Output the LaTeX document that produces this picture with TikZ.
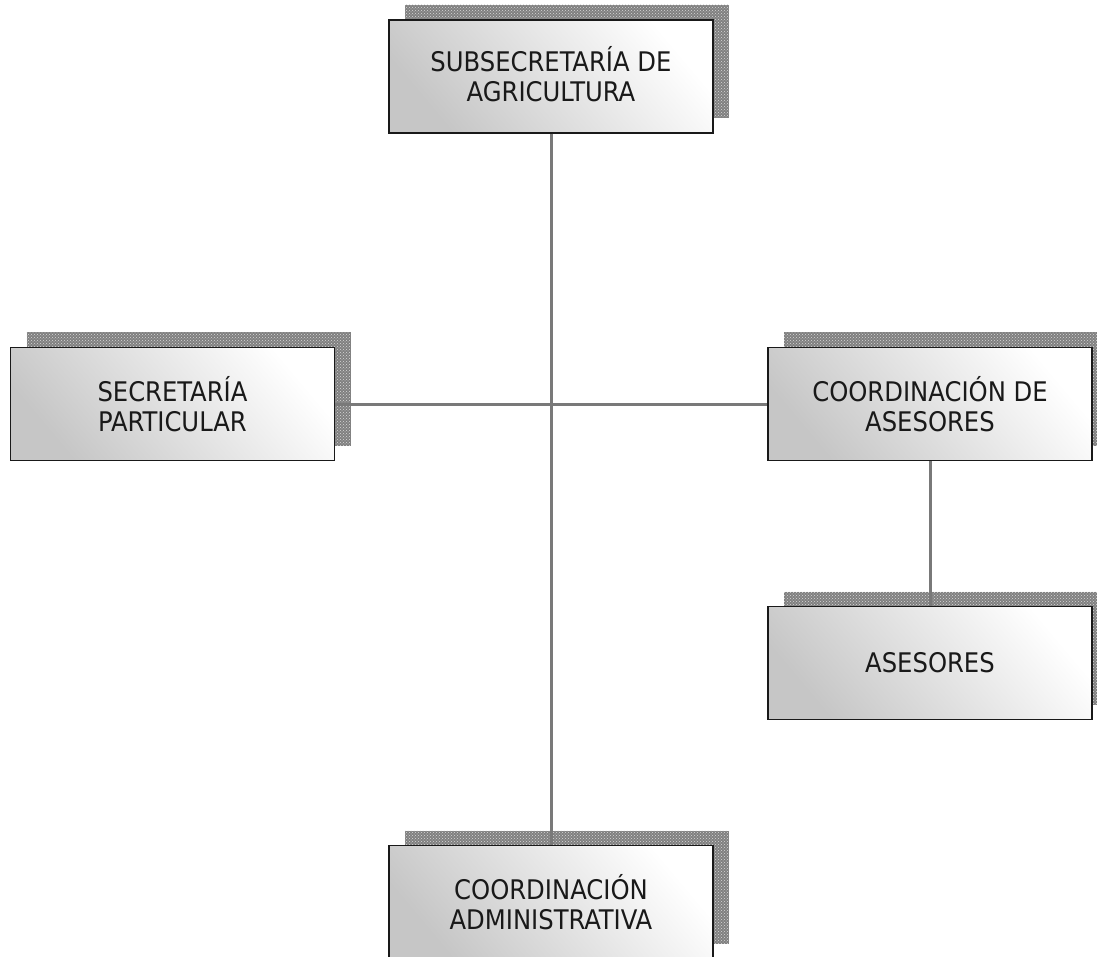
\documentclass[tikz,border=0pt]{standalone}
\usepackage{fontspec}
\setmainfont{DejaVu Sans Condensed}
\usetikzlibrary{patterns}
\tikzset{
  unitbox/.style={draw=black!90, line width=1.4pt, minimum width=324pt, minimum height=113pt,
    align=center, font=\fontsize{27}{30}\selectfont, text=black!90,
    top color=white, bottom color=gray!45, shading angle=-50,
    preaction={draw=none, fill=gray, transform canvas={xshift=16pt, yshift=15pt}},
    preaction={draw=none, pattern=crosshatch dots, pattern color=white!85!black, transform canvas={xshift=16pt, yshift=15pt}}},
  link/.style={draw=gray!95!black, line width=3pt}
}
\begin{document}
\begin{tikzpicture}[x=1pt,y=-1pt]
\useasboundingbox (0,0) rectangle (1097,957);
\node[unitbox] (sub) at (551,76.5) {SUBSECRETARÍA DE\\AGRICULTURA\vphantom{g}};
\node[unitbox] (sec) at (172.5,404) {SECRETARÍA\\PARTICULAR};
\node[unitbox] (coa) at (930,404) {COORDINACIÓN DE\\ASESORES};
\node[unitbox] (ase) at (930,663) {ASESORES};
\node[unitbox] (cad) at (551,902) {COORDINACIÓN\\ADMINISTRATIVA};
\draw[link] (sub.south) -- (cad.north);
\draw[link] (sec.east) -- (coa.west);
\draw[link] (coa.south) -- (ase.north);
\end{tikzpicture}
\end{document}
